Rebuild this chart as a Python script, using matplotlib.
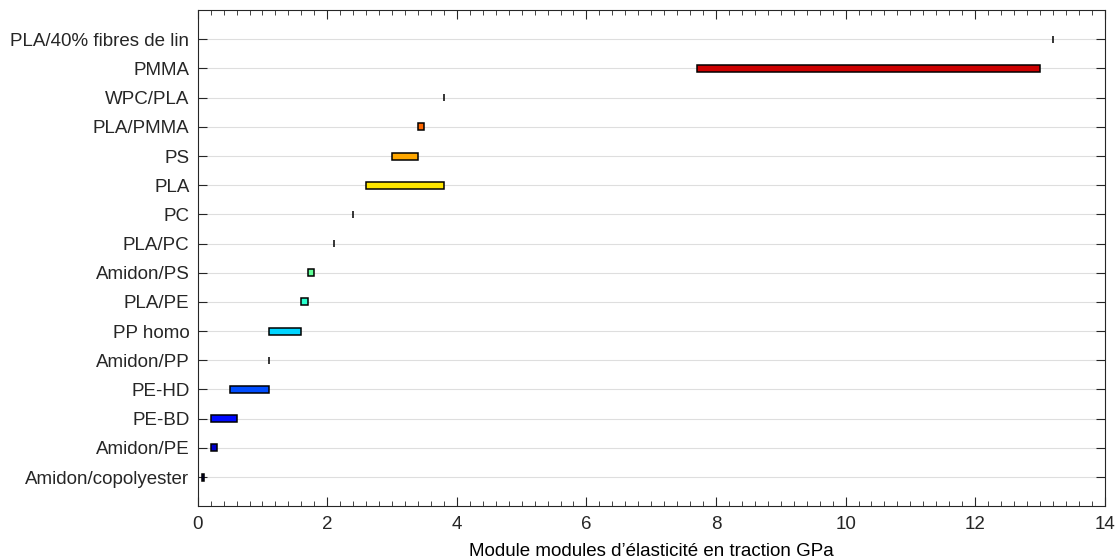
import matplotlib
matplotlib.use('Agg')
import matplotlib.pyplot as plt
from matplotlib.ticker import MultipleLocator
import numpy as np

plt.rcParams['font.family'] = ['Liberation Sans', 'DejaVu Sans']
plt.rcParams['font.size'] = 13.5

materials = ["Amidon/copolyester", "Amidon/PE", "PE-BD", "PE-HD", "Amidon/PP",
             "PP homo", "PLA/PE", "Amidon/PS", "PLA/PC", "PC", "PLA", "PS",
             "PLA/PMMA", "WPC/PLA", "PMMA", "PLA/40% fibres de lin"]
e_min = [0.06, 0.2, 0.2, 0.5, 1.1, 1.1, 1.6, 1.7, 2.1, 2.4, 2.6, 3.0, 3.4, 3.8, 7.7, 13.2]
e_max = [0.10, 0.3, 0.6, 1.1, 1.1, 1.6, 1.7, 1.8, 2.1, 2.4, 3.8, 3.4, 3.5, 3.8, 13.0, 13.2]

colors = plt.cm.jet(np.linspace(0, 1, len(materials)))
ypos = np.arange(1, len(materials) + 1)

fig = plt.figure(figsize=(11.17, 5.6), dpi=100)
ax = fig.add_axes([0.177, 0.096, 0.812, 0.886])

widths = np.array(e_max) - np.array(e_min)
ax.barh(ypos, widths, left=e_min, height=0.24, color=colors,
        edgecolor='black', linewidth=1.1, zorder=3)

ax.set_xlim(0, 14)
ax.set_ylim(0, len(materials) + 1)
ax.set_yticks(ypos)
ax.set_yticklabels(materials)
ax.xaxis.set_major_locator(MultipleLocator(2))
ax.xaxis.set_minor_locator(MultipleLocator(0.2))
ax.tick_params(which='both', direction='in', top=True, right=True, colors='0.15')
ax.tick_params(which='major', length=6.5)
ax.tick_params(which='minor', length=3.5)
ax.tick_params(axis='y', which='minor', left=False, right=False)
ax.tick_params(axis='y', pad=6)
ax.tick_params(axis='x', pad=7)
ax.grid(axis='y', color='0.87', linewidth=0.8, zorder=0)
for s in ax.spines.values():
    s.set_color('0.15')
ax.set_xlabel("Module modules d’élasticité en traction GPa", labelpad=7)

plt.savefig('out.png')
